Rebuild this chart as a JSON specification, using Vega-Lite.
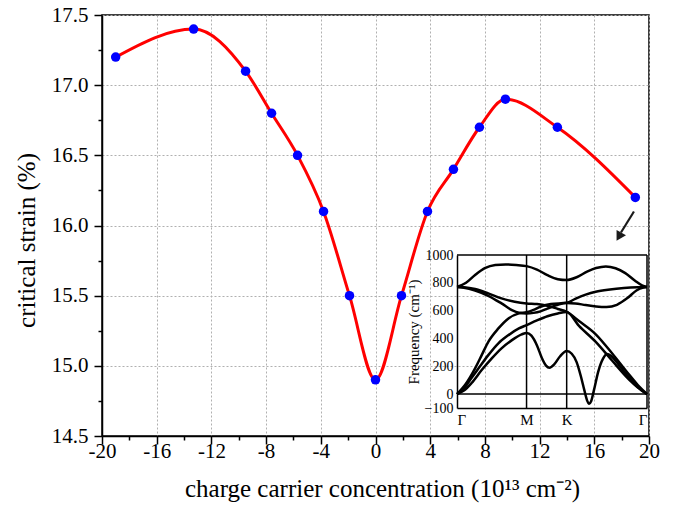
{
  "$schema": "https://vega.github.io/schema/vega-lite/v6.json",
  "width": 547,
  "height": 421,
  "autosize": {"type": "none"},
  "padding": {"left": 102, "top": 15, "right": 31, "bottom": 77},
  "background": "white",
  "config": {
    "view": {"stroke": "black", "strokeWidth": 1.5},
    "font": "Liberation Serif",
    "axis": {"labelFont": "Liberation Serif", "titleFont": "Liberation Serif", "labelColor": "black", "titleColor": "black", "titleFontWeight": "normal", "domainColor": "black", "tickColor": "black"}
  },
  "datasets": {
    "main": [
      {"x": -19.0, "y": 17.2}, {"x": -13.3, "y": 17.4}, {"x": -9.5, "y": 17.1}, {"x": -7.6, "y": 16.8},
      {"x": -5.7, "y": 16.5}, {"x": -3.8, "y": 16.1}, {"x": -1.9, "y": 15.5}, {"x": 0, "y": 14.9},
      {"x": 1.9, "y": 15.5}, {"x": 3.8, "y": 16.1}, {"x": 5.7, "y": 16.4}, {"x": 7.6, "y": 16.7},
      {"x": 9.5, "y": 16.9}, {"x": 13.3, "y": 16.7}, {"x": 19.0, "y": 16.2}
    ],
    "arrow": [{"x": 18.9, "y": 16.1}, {"x": 17.95, "y": 15.95}],
    "arrowhead": [{"x": 17.8, "y": 15.92}],
    "bands": [
      {"b": 1, "k": 0, "f": 770}, {"b": 1, "k": 0.13, "f": 800}, {"b": 1, "k": 0.26, "f": 856}, {"b": 1, "k": 0.4, "f": 905}, {"b": 1, "k": 0.55, "f": 928}, {"b": 1, "k": 0.7, "f": 932}, {"b": 1, "k": 0.85, "f": 928}, {"b": 1, "k": 1.0, "f": 920}, {"b": 1, "k": 1.15, "f": 895}, {"b": 1, "k": 1.3, "f": 855}, {"b": 1, "k": 1.45, "f": 826}, {"b": 1, "k": 1.577, "f": 820}, {"b": 1, "k": 1.72, "f": 840}, {"b": 1, "k": 1.87, "f": 880}, {"b": 1, "k": 2.0, "f": 906}, {"b": 1, "k": 2.14, "f": 918}, {"b": 1, "k": 2.28, "f": 905}, {"b": 1, "k": 2.42, "f": 870}, {"b": 1, "k": 2.56, "f": 815}, {"b": 1, "k": 2.66, "f": 782}, {"b": 1, "k": 2.732, "f": 770},
      {"b": 2, "k": 0, "f": 770}, {"b": 2, "k": 0.1, "f": 768}, {"b": 2, "k": 0.26, "f": 755}, {"b": 2, "k": 0.45, "f": 724}, {"b": 2, "k": 0.64, "f": 688}, {"b": 2, "k": 0.83, "f": 664}, {"b": 2, "k": 1.0, "f": 652}, {"b": 2, "k": 1.15, "f": 648}, {"b": 2, "k": 1.3, "f": 635}, {"b": 2, "k": 1.45, "f": 612}, {"b": 2, "k": 1.577, "f": 592}, {"b": 2, "k": 1.754, "f": 525}, {"b": 2, "k": 1.995, "f": 430}, {"b": 2, "k": 2.235, "f": 290}, {"b": 2, "k": 2.474, "f": 140}, {"b": 2, "k": 2.6, "f": 65}, {"b": 2, "k": 2.732, "f": 0},
      {"b": 3, "k": 0, "f": 770}, {"b": 3, "k": 0.1, "f": 765}, {"b": 3, "k": 0.26, "f": 745}, {"b": 3, "k": 0.45, "f": 707}, {"b": 3, "k": 0.64, "f": 652}, {"b": 3, "k": 0.79, "f": 604}, {"b": 3, "k": 0.89, "f": 585}, {"b": 3, "k": 1.0, "f": 580}, {"b": 3, "k": 1.1, "f": 584}, {"b": 3, "k": 1.2, "f": 595}, {"b": 3, "k": 1.3, "f": 615}, {"b": 3, "k": 1.45, "f": 642}, {"b": 3, "k": 1.577, "f": 655}, {"b": 3, "k": 1.7, "f": 652}, {"b": 3, "k": 1.85, "f": 640}, {"b": 3, "k": 2.0, "f": 630}, {"b": 3, "k": 2.15, "f": 626}, {"b": 3, "k": 2.3, "f": 642}, {"b": 3, "k": 2.45, "f": 690}, {"b": 3, "k": 2.58, "f": 745}, {"b": 3, "k": 2.68, "f": 766}, {"b": 3, "k": 2.732, "f": 770},
      {"b": 4, "k": 0, "f": 0}, {"b": 4, "k": 0.115, "f": 65}, {"b": 4, "k": 0.26, "f": 185}, {"b": 4, "k": 0.355, "f": 280}, {"b": 4, "k": 0.45, "f": 376}, {"b": 4, "k": 0.595, "f": 472}, {"b": 4, "k": 0.74, "f": 544}, {"b": 4, "k": 0.89, "f": 580}, {"b": 4, "k": 1.0, "f": 588}, {"b": 4, "k": 1.1, "f": 605}, {"b": 4, "k": 1.2, "f": 628}, {"b": 4, "k": 1.35, "f": 648}, {"b": 4, "k": 1.577, "f": 656}, {"b": 4, "k": 1.7, "f": 685}, {"b": 4, "k": 1.85, "f": 715}, {"b": 4, "k": 1.995, "f": 736}, {"b": 4, "k": 2.2, "f": 752}, {"b": 4, "k": 2.4, "f": 762}, {"b": 4, "k": 2.6, "f": 768}, {"b": 4, "k": 2.732, "f": 770},
      {"b": 5, "k": 0, "f": 0}, {"b": 5, "k": 0.1, "f": 40}, {"b": 5, "k": 0.2, "f": 110}, {"b": 5, "k": 0.31, "f": 185}, {"b": 5, "k": 0.45, "f": 280}, {"b": 5, "k": 0.595, "f": 365}, {"b": 5, "k": 0.74, "f": 424}, {"b": 5, "k": 0.89, "f": 472}, {"b": 5, "k": 1.0, "f": 496}, {"b": 5, "k": 1.15, "f": 530}, {"b": 5, "k": 1.3, "f": 560}, {"b": 5, "k": 1.45, "f": 580}, {"b": 5, "k": 1.577, "f": 590}, {"b": 5, "k": 1.754, "f": 490}, {"b": 5, "k": 1.995, "f": 375}, {"b": 5, "k": 2.235, "f": 238}, {"b": 5, "k": 2.474, "f": 105}, {"b": 5, "k": 2.6, "f": 48}, {"b": 5, "k": 2.732, "f": 0},
      {"b": 6, "k": 0, "f": 0}, {"b": 6, "k": 0.1, "f": 25}, {"b": 6, "k": 0.21, "f": 80}, {"b": 6, "k": 0.355, "f": 173}, {"b": 6, "k": 0.5, "f": 257}, {"b": 6, "k": 0.64, "f": 329}, {"b": 6, "k": 0.79, "f": 388}, {"b": 6, "k": 0.93, "f": 429}, {"b": 6, "k": 1.0, "f": 440}, {"b": 6, "k": 1.07, "f": 420}, {"b": 6, "k": 1.15, "f": 350}, {"b": 6, "k": 1.22, "f": 260}, {"b": 6, "k": 1.28, "f": 205}, {"b": 6, "k": 1.33, "f": 190}, {"b": 6, "k": 1.4, "f": 215}, {"b": 6, "k": 1.48, "f": 270}, {"b": 6, "k": 1.577, "f": 310}, {"b": 6, "k": 1.65, "f": 290}, {"b": 6, "k": 1.72, "f": 230}, {"b": 6, "k": 1.78, "f": 130}, {"b": 6, "k": 1.83, "f": 30}, {"b": 6, "k": 1.87, "f": -45}, {"b": 6, "k": 1.9, "f": -70}, {"b": 6, "k": 1.93, "f": -50}, {"b": 6, "k": 1.97, "f": 30}, {"b": 6, "k": 2.03, "f": 160}, {"b": 6, "k": 2.1, "f": 255}, {"b": 6, "k": 2.16, "f": 288}, {"b": 6, "k": 2.22, "f": 272}, {"b": 6, "k": 2.35, "f": 195}, {"b": 6, "k": 2.474, "f": 118}, {"b": 6, "k": 2.6, "f": 50}, {"b": 6, "k": 2.732, "f": 0}
    ],
    "vrules": [{"k": 1.0}, {"k": 1.577}, {"k": 2.732}],
    "hrules": [{"f": 0}, {"f": 1000}]
  },
  "layer": [
    {
      "data": {"name": "main"},
      "mark": {"type": "point", "opacity": 0},
      "encoding": {
        "x": {"field": "x", "type": "quantitative", "scale": {"domain": [-20, 20], "nice": false},
          "axis": {"orient": "bottom", "title": null, "values": [-20,-16,-12,-8,-4,0,4,8,12,16,20], "labels": false, "ticks": false, "domain": false,
            "grid": true, "gridDash": [2, 2], "gridColor": "#b0b0b0", "gridWidth": 1}},
        "y": {"field": "y", "type": "quantitative", "scale": {"domain": [14.5, 17.5], "nice": false, "zero": false},
          "axis": {"orient": "left", "title": null, "values": [14.5,15,15.5,16,16.5,17,17.5], "labels": false, "ticks": false, "domain": false,
            "grid": true, "gridDash": [2, 2], "gridColor": "#b0b0b0", "gridWidth": 1}}
      }
    },
    {
      "data": {"name": "main"},
      "mark": {"type": "line", "color": "#ff0000", "strokeWidth": 3, "interpolate": "monotone"},
      "encoding": {
        "x": {"field": "x", "type": "quantitative", "scale": {"domain": [-20, 20], "nice": false},
          "axis": {"orient": "bottom", "title": "charge carrier concentration (10¹³ cm⁻²)", "values": [-20,-16,-12,-8,-4,0,4,8,12,16,20],
            "labelExpr": "'' + datum.value", "labelFont": "Liberation Serif", "labelFontSize": 21, "labelPadding": 4, "labelOverlap": false, "labelBound": false, "labelFlush": false,
            "ticks": false, "domainWidth": 1.5, "grid": false,
            "titleFont": "Liberation Serif", "titleFontSize": 25, "titleX": 280, "titleY": 60, "titleBaseline": "alphabetic", "titleAnchor": "middle"}},
        "y": {"field": "y", "type": "quantitative", "scale": {"domain": [14.5, 17.5], "nice": false, "zero": false},
          "axis": {"orient": "left", "title": "critical strain (%)", "values": [14.5,15,15.5,16,16.5,17,17.5], "format": ".1f",
            "labelFont": "Liberation Serif", "labelFontSize": 21, "labelPadding": 14, "labelOverlap": false, "labelBound": false, "labelFlush": false,
            "ticks": false, "domainWidth": 1.5, "grid": false,
            "titleFont": "Liberation Serif", "titleFontSize": 25, "titleX": -76, "titleY": 225, "titleBaseline": "middle", "titleAnchor": "middle"}}
      }
    },
    {
      "data": {"name": "main"},
      "mark": {"type": "point", "filled": true, "color": "#0000ff", "opacity": 1, "size": 90},
      "encoding": {
        "x": {"field": "x", "type": "quantitative", "scale": {"domain": [-20, 20], "nice": false},
          "axis": {"orient": "bottom", "title": null, "values": [-18,-14,-10,-6,-2,2,6,10,14,18], "labels": false, "domain": false, "grid": false, "tickSize": 4, "tickWidth": 1.5}},
        "y": {"field": "y", "type": "quantitative", "scale": {"domain": [14.5, 17.5], "nice": false, "zero": false},
          "axis": {"orient": "left", "title": null, "values": [14.75,15.25,15.75,16.25,16.75,17.25], "labels": false, "domain": false, "grid": false, "tickSize": 4, "tickWidth": 1.5}}
      }
    },
    {
      "data": {"name": "arrow"},
      "mark": {"type": "line", "color": "#1a1a1a", "strokeWidth": 2.2},
      "encoding": {
        "x": {"field": "x", "type": "quantitative", "scale": {"domain": [-20, 20], "nice": false},
          "axis": {"orient": "bottom", "title": null, "values": [-20,-16,-12,-8,-4,0,4,8,12,16,20], "labels": false, "domain": false, "grid": false, "tickSize": 8, "tickWidth": 1.5}},
        "y": {"field": "y", "type": "quantitative", "scale": {"domain": [14.5, 17.5], "nice": false, "zero": false},
          "axis": {"orient": "left", "title": null, "values": [14.5,15,15.5,16,16.5,17,17.5], "labels": false, "domain": false, "grid": false, "tickSize": 8, "tickWidth": 1.5}}
      }
    },
    {
      "data": {"name": "arrowhead"},
      "mark": {"type": "point", "shape": "triangle-up", "filled": true, "color": "#1a1a1a", "opacity": 1, "size": 120, "angle": 210},
      "encoding": {
        "x": {"field": "x", "type": "quantitative", "scale": {"domain": [-20, 20], "nice": false}, "axis": null},
        "y": {"field": "y", "type": "quantitative", "scale": {"domain": [14.5, 17.5], "nice": false, "zero": false}, "axis": null}
      }
    },
    {
      "data": {"name": "bands"},
      "mark": {"type": "line", "color": "black", "strokeWidth": 2.5, "interpolate": "monotone"},
      "encoding": {
        "x": {"field": "k", "type": "quantitative", "scale": {"domain": [0, 2.732], "range": [355, 545], "nice": false, "zero": false},
          "axis": {"orient": "bottom", "offset": -28, "title": null, "values": [0, 1, 1.577, 2.732],
            "labelExpr": "datum.value === 0 ? 'Γ' : datum.value === 1 ? 'M' : datum.value < 2 ? 'K' : 'Γ'",
            "labelFont": "Liberation Serif", "labelFontSize": 15, "labelPadding": 4, "ticks": false, "grid": false, "domainWidth": 1.5, "labelBound": false, "labelFlush": true, "labelOverlap": false}},
        "y": {"field": "f", "type": "quantitative", "scale": {"domain": [-100, 1000], "range": [393, 240], "nice": false, "zero": false},
          "axis": {"orient": "left", "offset": -355, "title": "Frequency (cm⁻¹)", "values": [-100, 0, 200, 400, 600, 800, 1000], "format": "d",
            "labelFont": "Liberation Serif", "labelFontSize": 14, "labelPadding": 4, "ticks": false, "grid": false, "domainWidth": 1.5, "labelBound": false, "labelFlush": false, "labelOverlap": false,
            "titleFont": "Liberation Serif", "titleFontSize": 15, "titlePadding": 3}},
        "detail": {"field": "b", "type": "nominal"}
      }
    },
    {
      "data": {"name": "vrules"},
      "mark": {"type": "rule", "color": "black", "strokeWidth": 1.5},
      "encoding": {
        "x": {"field": "k", "type": "quantitative", "scale": {"domain": [0, 2.732], "range": [355, 545], "nice": false, "zero": false}, "axis": null},
        "y": {"datum": -100, "type": "quantitative", "scale": {"domain": [-100, 1000], "range": [393, 240], "nice": false, "zero": false}, "axis": null},
        "y2": {"datum": 1000}
      }
    },
    {
      "data": {"name": "hrules"},
      "mark": {"type": "rule", "color": "black", "strokeWidth": 1.5},
      "encoding": {
        "y": {"field": "f", "type": "quantitative", "scale": {"domain": [-100, 1000], "range": [393, 240], "nice": false, "zero": false}, "axis": null},
        "x": {"datum": 0, "type": "quantitative", "scale": {"domain": [0, 2.732], "range": [355, 545], "nice": false, "zero": false}, "axis": null},
        "x2": {"datum": 2.732}
      }
    }
  ],
  "resolve": {"scale": {"x": "independent", "y": "independent"}, "axis": {"x": "independent", "y": "independent"}}
}
